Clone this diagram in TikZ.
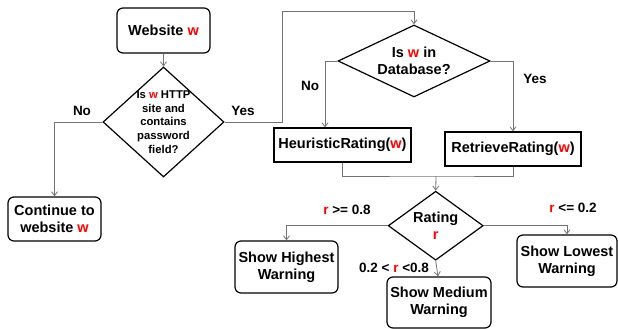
\documentclass[tikz,border=0pt]{standalone}
\usepackage{fontspec}
\setmainfont{Liberation Sans}
\usetikzlibrary{shapes.geometric,arrows.meta,calc}
\newcommand\rw{\textcolor{red}{w}}
\newcommand\rr{\textcolor{red}{r}}
\begin{document}
\begin{tikzpicture}[x=1pt,y=-1pt,
  txt/.style={font=\bfseries\fontsize{14.5}{17}\selectfont,align=center,inner sep=2pt},
  rbox/.style={txt,draw=black,line width=1.2pt,rounded corners=6pt},
  sbox/.style={txt,draw=black,line width=1.2pt},
  dia/.style={diamond,draw=black,line width=1.2pt,inner sep=0pt},
  conn/.style={draw=black!55,line width=0.8pt},
  arr/.style={conn,-{Straight Barb[length=4pt,width=6pt]}},
  lbl/.style={font=\bfseries\fontsize{13.5}{16}\selectfont,inner sep=0pt}]
\useasboundingbox (0,0) rectangle (618,329);
\node[rbox,minimum width=93pt,minimum height=45pt] (web) at (163.5,30.5) {Website \rw};
\node[dia,minimum width=121pt,minimum height=110pt,
  label={[font=\bfseries\fontsize{11.3}{13.7}\selectfont,align=center]center:Is \rw{} HTTP\\site and\\contains\\password\\field?}] (d1) at (163.5,122) {};
\node[rbox,minimum width=93pt,minimum height=44pt] (cont) at (54.5,219) {Continue to\\website \rw};
\node[dia,minimum width=152pt,minimum height=72pt,
  label={[txt]center:Is \rw{} in\\Database?}] (db) at (414,61) {};
\node[sbox,minimum width=137pt,minimum height=34pt] (heur) at (342.5,145) {HeuristicRating(\rw)};
\node[sbox,minimum width=136pt,minimum height=34pt] (retr) at (513,149) {RetrieveRating(\rw)};
\node[dia,minimum width=95pt,minimum height=69pt,
  label={[txt]center:Rating\\\rr}] (rate) at (435.7,225.7) {};
\node[rbox,minimum width=103pt,minimum height=52pt] (high) at (286.5,267) {Show Highest\\Warning};
\node[rbox,minimum width=100pt,minimum height=52pt] (low) at (567,261) {Show Lowest\\Warning};
\node[rbox,minimum width=104pt,minimum height=51pt] (med) at (439,302.5) {Show Medium\\Warning};
\coordinate (yb) at (282,11);
\coordinate (mj) at (436,176);
% connectors
\draw[arr] (web.south) -- (d1.north);
\draw[arr] (d1.west) -| (cont.north);
\draw[arr] (d1.east) -| (yb) -| (db.north);
\draw[arr] (db.west) -| ([xshift=-17.5pt]heur.north);
\draw[arr] (db.east) -| (retr.north);
\draw[conn] (heur.south) |- (mj) -| (retr.south);
\draw[arr] (mj) -- (rate.north);
\draw[arr] (rate.west) -| (high.north);
\draw[arr] (rate.east) -| (low.north);
\draw[arr] (rate.south) -- ([xshift=-1pt]med.north);
% labels
\node[lbl] (lno1) at (82,111) {No};
\node[lbl] (lyes1) at (243,111) {Yes};
\node[lbl] (lno2) at (310,86) {No};
\node[lbl] (lyes2) at (535,79) {Yes};
\node[lbl] (lhigh) at (347,210) {\rr{} >= 0.8};
\node[lbl] (llow) at (573,208) {\rr{} <= 0.2};
\node[lbl] (lmed) at (394,268) {0.2 < \rr{} <0.8};
\end{tikzpicture}
\end{document}
